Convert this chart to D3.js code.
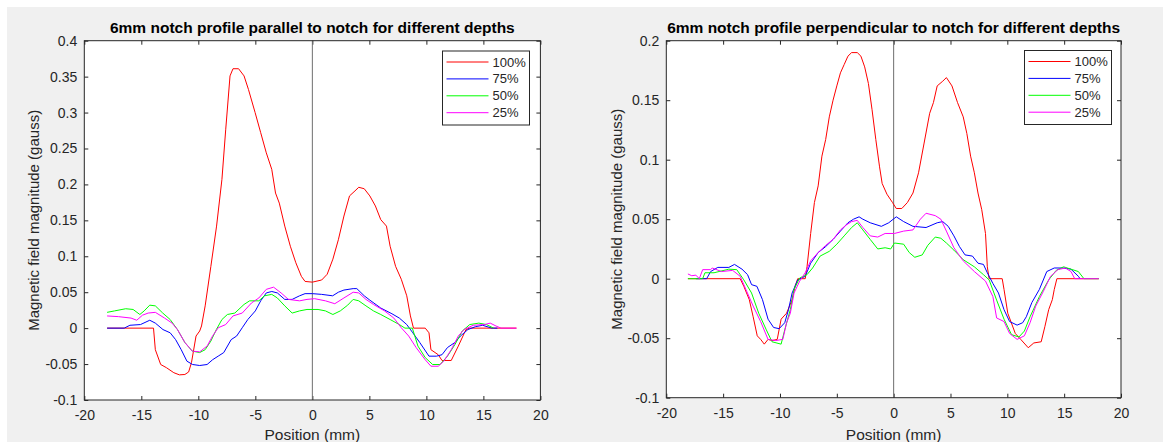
<!DOCTYPE html>
<html lang="en">
<head>
<meta charset="utf-8">
<title>6mm notch profiles</title>
<script src="https://cdnjs.cloudflare.com/ajax/libs/d3/7.8.5/d3.min.js"></script>
<style>
  body { margin: 0; background: #fff; }
  svg { display: block; font-family: "Liberation Sans", Arial, sans-serif; }
</style>
</head>
<body>
<svg id="chart" width="1163" height="442"></svg>
<script>
// ---- data ----
var xTicks = [-20, -15, -10, -5, 0, 5, 10, 15, 20];
var parYTicks = [-0.1, -0.05, 0, 0.05, 0.1, 0.15, 0.2, 0.25, 0.3, 0.35, 0.4];
var perpYTicks = [-0.1, -0.05, 0, 0.05, 0.1, 0.15, 0.2];
var depths = ["100%", "75%", "50%", "25%"];
var colors = ["#ff0000", "#0000ff", "#00ff00", "#ff00ff"];

// parallel to notch
var par100 = [[-18,0],[-13.93,0],[-13.77,-0.030],[-13.3,-0.0506],[-12.8,-0.055],[-12.15,-0.062],[-11.66,-0.065],
  [-11.18,-0.0645],[-10.85,-0.061],[-10.6,-0.048],[-10.2,-0.011],[-9.88,-0.004],[-9.72,0.003],[-9.4,0.031],
  [-8.9,0.086],[-8.4,0.142],[-7.93,0.207],[-7.6,0.276],[-7.22,0.351],[-6.96,0.361],[-6.47,0.361],[-5.99,0.351],
  [-5.6,0.332],[-5.02,0.300],[-4.53,0.272],[-4.04,0.244],[-3.56,0.221],[-3.23,0.188],[-2.9,0.174],[-2.42,0.142],
  [-1.93,0.114],[-1.45,0.091],[-0.96,0.072],[-0.64,0.065],[0,0.064],[0.82,0.067],[1.3,0.075],[1.8,0.096],
  [2.28,0.123],[2.77,0.156],[3.26,0.184],[3.74,0.191],[4.07,0.196],[4.55,0.194],[5.04,0.184],[5.53,0.170],
  [6.0,0.151],[6.5,0.142],[6.82,0.114],[7.3,0.086],[7.8,0.068],[8.28,0.045],[8.6,0.017],[8.87,0],[9.9,0],
  [10.23,-0.0065],[10.4,-0.030],[11.04,-0.037],[11.37,-0.045],[12.18,-0.045],[12.8,-0.025],[13.47,-0.002],
  [13.8,0],[17.9,0]];
var par75 = [[-18,0],[-16.5,0],[-16.0,0.004],[-15.07,0.005],[-14.26,0.011],[-13.77,0.007],[-13.1,-0.002],
  [-12.47,-0.0065],[-11.99,-0.016],[-11.5,-0.030],[-11.0,-0.046],[-10.5,-0.0506],[-9.88,-0.052],[-9.23,-0.0506],
  [-8.75,-0.044],[-8.26,-0.039],[-7.77,-0.034],[-7.12,-0.016],[-6.64,-0.011],[-6.15,0.0005],[-5.66,0.012],
  [-5.0,0.024],[-4.53,0.038],[-4.04,0.049],[-3.56,0.051],[-3.07,0.049],[-2.42,0.040],[-1.77,0.040],[-1.12,0.045],
  [-0.64,0.048],[0,0.048],[0.81,0.047],[1.78,0.045],[2.28,0.050],[2.77,0.053],[3.58,0.055],[3.9,0.055],
  [4.55,0.045],[5.04,0.039],[6.0,0.028],[6.98,0.020],[7.63,0.014],[8.28,0.005],[8.77,-0.0056],[9.42,-0.020],
  [10.23,-0.039],[10.88,-0.039],[11.37,-0.037],[11.85,-0.027],[12.5,-0.020],[12.99,-0.011],[13.64,-0.002],
  [14.3,0.002],[14.93,0.004],[15.74,0],[16.23,0]];
var par50 = [[-18,0.022],[-17.34,0.024],[-16.37,0.027],[-15.72,0.026],[-15.13,0.019],[-14.75,0.024],[-14.26,0.032],
  [-13.77,0.031],[-13.12,0.021],[-12.47,0.012],[-11.83,-0.002],[-11.18,-0.020],[-10.53,-0.032],[-9.88,-0.034],
  [-9.4,-0.030],[-8.9,-0.018],[-8.42,-0.002],[-7.93,0.012],[-7.45,0.019],[-6.8,0.021],[-5.99,0.033],[-5.5,0.038],
  [-4.69,0.038],[-4.2,0.045],[-3.56,0.047],[-3.07,0.042],[-2.42,0.031],[-1.77,0.021],[-1.12,0.024],[-0.47,0.026],
  [0.5,0.026],[1.15,0.024],[1.8,0.019],[2.45,0.024],[3.1,0.032],[3.58,0.040],[4.07,0.038],[4.7,0.031],
  [5.36,0.024],[6.0,0.019],[6.82,0.012],[7.63,0.005],[8.12,0],[8.77,0],[9.26,-0.025],[9.9,-0.041],[10.55,-0.0506],
  [11.2,-0.0506],[11.85,-0.039],[12.5,-0.023],[13.15,-0.004],[13.8,0.005],[14.6,0.007],[15.26,0.005],[15.9,0]];
var par25 = [[-18,0.017],[-17.0,0.016],[-15.9,0.014],[-15.4,0.011],[-14.9,0.018],[-14.4,0.021],[-13.77,0.022],
  [-12.96,0.014],[-12.3,0.007],[-11.83,-0.002],[-11.18,-0.020],[-10.53,-0.032],[-9.88,-0.033],[-9.23,-0.025],
  [-8.75,-0.011],[-8.26,0.0005],[-7.6,0.005],[-6.96,0.017],[-6.15,0.021],[-5.34,0.035],[-4.69,0.042],[-4.04,0.054],
  [-3.4,0.057],[-2.74,0.049],[-2.1,0.040],[-1.12,0.038],[-0.47,0.040],[0.2,0.041],[1.15,0.038],[1.97,0.034],
  [2.77,0.042],[3.58,0.050],[4.07,0.049],[4.7,0.040],[5.36,0.033],[6.33,0.024],[7.15,0.014],[7.8,0.0005],
  [8.45,-0.011],[9.1,-0.027],[9.9,-0.044],[10.4,-0.053],[11.04,-0.053],[11.53,-0.046],[12.18,-0.030],[12.8,-0.011],
  [13.3,-0.002],[14.1,0.004],[15.1,0.005],[15.6,0.007],[16.1,0.003],[16.55,0],[17.9,0]];

// perpendicular to notch
var perp100 = [[-18.1,0],[-13.5,0],[-13.18,-0.0064],[-12.7,-0.0176],[-12.36,-0.032],[-12.0,-0.048],[-11.7,-0.051],
  [-11.38,-0.055],[-11.05,-0.051],[-10.7,-0.052],[-10.24,-0.051],[-9.9,-0.034],[-9.42,-0.029],[-8.93,-0.0176],
  [-8.67,-0.0064],[-8.44,0],[-7.78,0],[-7.62,0.010],[-7.3,0.038],[-6.97,0.064],[-6.64,0.078],[-6.31,0.103],
  [-5.98,0.117],[-5.66,0.136],[-5.33,0.150],[-5.0,0.162],[-4.68,0.173],[-4.35,0.180],[-4.02,0.187],[-3.7,0.190],
  [-3.2,0.190],[-2.88,0.187],[-2.55,0.178],[-2.22,0.164],[-1.9,0.142],[-1.57,0.117],[-1.24,0.094],[-1.01,0.080],
  [-0.59,0.071],[-0.1,0.064],[0.23,0.059],[0.72,0.059],[1.21,0.064],[1.7,0.072],[2.19,0.089],[2.68,0.114],
  [3.17,0.139],[3.5,0.148],[3.83,0.162],[4.32,0.166],[4.64,0.169],[5.13,0.162],[5.62,0.148],[6.12,0.136],
  [6.44,0.122],[6.77,0.103],[7.1,0.089],[7.42,0.072],[7.75,0.058],[8.08,0.038],[8.24,0.010],[8.4,0],[9.55,0],
  [9.71,-0.009],[10.04,-0.029],[10.7,-0.046],[11.18,-0.051],[11.84,-0.058],[12.33,-0.054],[12.98,-0.053],
  [13.31,-0.040],[13.64,-0.026],[13.96,-0.0176],[14.13,-0.009],[14.36,0],[18.05,0]];
var perp75 = [[-17.4,0],[-16.45,0],[-16.1,0.006],[-15.47,0.0095],[-14.5,0.0095],[-14.0,0.012],[-13.34,0.008],
  [-12.85,0.0034],[-12.5,-0.005],[-12.03,-0.0064],[-11.54,-0.0176],[-11.05,-0.034],[-10.56,-0.041],[-10.07,-0.042],
  [-9.58,-0.037],[-9.25,-0.026],[-8.93,-0.012],[-8.44,-0.001],[-7.78,0.002],[-7.3,0.013],[-6.64,0.022],
  [-5.98,0.027],[-5.33,0.033],[-4.68,0.040],[-4.02,0.047],[-3.53,0.050],[-3.04,0.052],[-2.71,0.050],[-2.06,0.047],
  [-1.08,0.044],[-0.43,0.047],[0.23,0.052],[0.88,0.048],[1.7,0.044],[2.85,0.043],[3.83,0.047],[4.32,0.048],
  [4.8,0.044],[5.3,0.036],[5.79,0.027],[6.28,0.020],[6.93,0.019],[7.42,0.013],[7.9,0.012],[8.24,0.005],
  [8.73,-0.004],[9.22,-0.012],[9.71,-0.026],[10.2,-0.036],[10.86,-0.039],[11.35,-0.037],[11.67,-0.032],
  [12.16,-0.020],[12.82,-0.009],[13.47,0.006],[14.13,0.009],[14.95,0.009],[15.6,0.008],[16.25,0.002],[16.4,0]];
var perp50 = [[-18.1,0],[-16.8,0],[-16.6,0.005],[-15.8,0.005],[-14.5,0.008],[-13.8,0.0076],[-13.18,-0.001],
  [-12.5,-0.012],[-11.87,-0.029],[-11.2,-0.043],[-10.7,-0.053],[-9.9,-0.055],[-9.58,-0.043],[-9.09,-0.026],
  [-8.76,-0.009],[-8.27,0.0006],[-7.62,0.0034],[-7.13,0.009],[-6.47,0.019],[-5.66,0.023],[-5.0,0.029],
  [-4.35,0.036],[-3.7,0.043],[-3.2,0.047],[-2.71,0.041],[-2.06,0.033],[-1.4,0.025],[-0.75,0.026],[-0.26,0.025],
  [0.07,0.030],[0.88,0.029],[1.37,0.022],[1.86,0.018],[2.52,0.020],[3.0,0.028],[3.66,0.035],[4.15,0.034],
  [4.64,0.030],[5.3,0.024],[6.12,0.016],[7.1,0.010],[7.9,0.0034],[8.4,-0.001],[9.06,-0.018],[9.71,-0.034],
  [10.37,-0.047],[11.02,-0.049],[11.5,-0.044],[12.0,-0.032],[12.82,-0.015],[13.64,-0.001],[14.3,0.007],
  [14.95,0.010],[15.6,0.008],[16.25,0.006],[16.74,0],[18.05,0]];
var perp25 = [[-18.1,0.004],[-17.76,0.0025],[-17.4,0.003],[-17.1,0],[-16.8,0.0076],[-16.1,0.0076],[-15.96,0.009],
  [-15.14,0.006],[-14.16,0.007],[-13.5,0.002],[-13.0,-0.009],[-12.36,-0.023],[-11.7,-0.036],[-11.05,-0.051],
  [-10.4,-0.052],[-9.75,-0.051],[-9.42,-0.037],[-9.09,-0.029],[-8.76,-0.012],[-8.27,-0.002],[-7.78,0.005],
  [-7.3,0.015],[-6.64,0.022],[-5.98,0.028],[-5.33,0.033],[-4.68,0.041],[-4.19,0.045],[-3.7,0.048],[-3.2,0.049],
  [-2.71,0.043],[-2.06,0.036],[-1.4,0.035],[-0.75,0.038],[0.07,0.038],[0.88,0.040],[1.7,0.041],[2.35,0.050],
  [2.85,0.055],[3.66,0.053],[4.15,0.050],[4.64,0.040],[5.3,0.026],[6.12,0.015],[7.1,0.006],[8.08,-0.002],
  [8.73,-0.015],[9.06,-0.033],[9.71,-0.036],[10.2,-0.046],[10.86,-0.051],[11.5,-0.048],[12.0,-0.037],
  [12.5,-0.023],[13.15,-0.011],[13.8,0.002],[14.45,0.0076],[15.1,0.009],[15.6,0.006],[15.93,0],[18.05,0]];

var svg = d3.select("#chart");

// grey figure background, white strip at top/left like the screenshot
svg.append("rect").attr("x", 7).attr("y", 7).attr("width", 1156).attr("height", 435).attr("fill", "#f0f0f0");

function drawPanel(p) {
  var x = d3.scaleLinear().domain([-20, 20]).range([p.left, p.right]);
  var y = d3.scaleLinear().domain([-0.1, p.ymax]).range([p.bottom, p.top]);

  svg.append("rect")
    .attr("x", p.left).attr("y", p.top)
    .attr("width", p.right - p.left).attr("height", p.bottom - p.top)
    .attr("fill", "#fff");

  var fmt = function(d) { return String(d); };
  var axisColor = "#262626";

  var gx = svg.append("g").attr("transform", "translate(0," + p.bottom + ")")
    .call(d3.axisBottom(x).tickValues(xTicks).tickFormat(fmt).tickSizeInner(-4).tickSizeOuter(0).tickPadding(10));
  var gxt = svg.append("g").attr("transform", "translate(0," + p.top + ")")
    .call(d3.axisTop(x).tickValues(xTicks).tickFormat("").tickSizeInner(-4).tickSizeOuter(0));
  var gy = svg.append("g").attr("transform", "translate(" + p.left + ",0)")
    .call(d3.axisLeft(y).tickValues(p.yTicks).tickFormat(fmt).tickSizeInner(-4).tickSizeOuter(0).tickPadding(7));
  var gyr = svg.append("g").attr("transform", "translate(" + p.right + ",0)")
    .call(d3.axisRight(y).tickValues(p.yTicks).tickFormat("").tickSizeInner(-4).tickSizeOuter(0));

  [gx, gxt, gy, gyr].forEach(function(g) {
    g.select(".domain").remove();
    g.selectAll("line").attr("stroke", axisColor);
    g.selectAll("text").attr("fill", axisColor).style("font-size", "14px")
      .style("font-family", "'Liberation Sans', Arial, sans-serif");
  });

  // vertical line at 0
  svg.append("line")
    .attr("x1", x(0)).attr("x2", x(0)).attr("y1", p.top).attr("y2", p.bottom)
    .attr("stroke", "#6e6e6e").attr("stroke-width", 1);

  var line = d3.line().x(function(d) { return x(d[0]); }).y(function(d) { return y(d[1]); });

  p.series.forEach(function(s, i) {
    svg.append("path").datum(s)
      .attr("d", line)
      .attr("fill", "none")
      .attr("stroke", colors[i])
      .attr("stroke-width", 1);
  });

  // frame
  svg.append("rect")
    .attr("x", p.left).attr("y", p.top)
    .attr("width", p.right - p.left).attr("height", p.bottom - p.top)
    .attr("fill", "none").attr("stroke", axisColor).attr("stroke-width", 1);

  // title and labels
  svg.append("text")
    .attr("x", (p.left + p.right) / 2).attr("y", 33)
    .attr("text-anchor", "middle")
    .style("font-weight", "bold").style("font-size", "15.5px")
    .attr("fill", "#000")
    .text(p.title);

  svg.append("text")
    .attr("x", (p.left + p.right) / 2).attr("y", 440)
    .attr("text-anchor", "middle")
    .style("font-size", "15.5px").attr("fill", axisColor)
    .text("Position (mm)");

  svg.append("text")
    .attr("transform", "translate(" + p.ylabX + "," + (p.top + p.bottom) / 2 + ") rotate(-90)")
    .attr("text-anchor", "middle")
    .style("font-size", "15px").attr("fill", axisColor)
    .text("Magnetic field magnitude (gauss)");

  // legend
  var lg = svg.append("g").attr("transform", "translate(" + p.legX + "," + p.legY + ")");
  lg.append("rect").attr("width", 87).attr("height", 74)
    .attr("fill", "#fff").attr("stroke", axisColor).attr("stroke-width", 1);
  depths.forEach(function(name, i) {
    var yy = 11 + i * 16.9;
    lg.append("line").attr("x1", 4).attr("x2", 46).attr("y1", yy).attr("y2", yy)
      .attr("stroke", colors[i]).attr("stroke-width", 1);
    lg.append("text").attr("x", 50).attr("y", yy + 4.5)
      .style("font-size", "13px").attr("fill", axisColor)
      .text(name);
  });
}

drawPanel({
  left: 84.3, right: 540.4, top: 40.7, bottom: 400, ymax: 0.4,
  yTicks: parYTicks, series: [par100, par75, par50, par25],
  title: "6mm notch profile parallel to notch for different depths",
  ylabX: 39, legX: 442.5, legY: 51
});

drawPanel({
  left: 666.3, right: 1121, top: 40.7, bottom: 397.7, ymax: 0.2,
  yTicks: perpYTicks, series: [perp100, perp75, perp50, perp25],
  title: "6mm notch profile perpendicular to notch for different depths",
  ylabX: 622, legX: 1024.5, legY: 50.5
});
</script>
</body>
</html>
